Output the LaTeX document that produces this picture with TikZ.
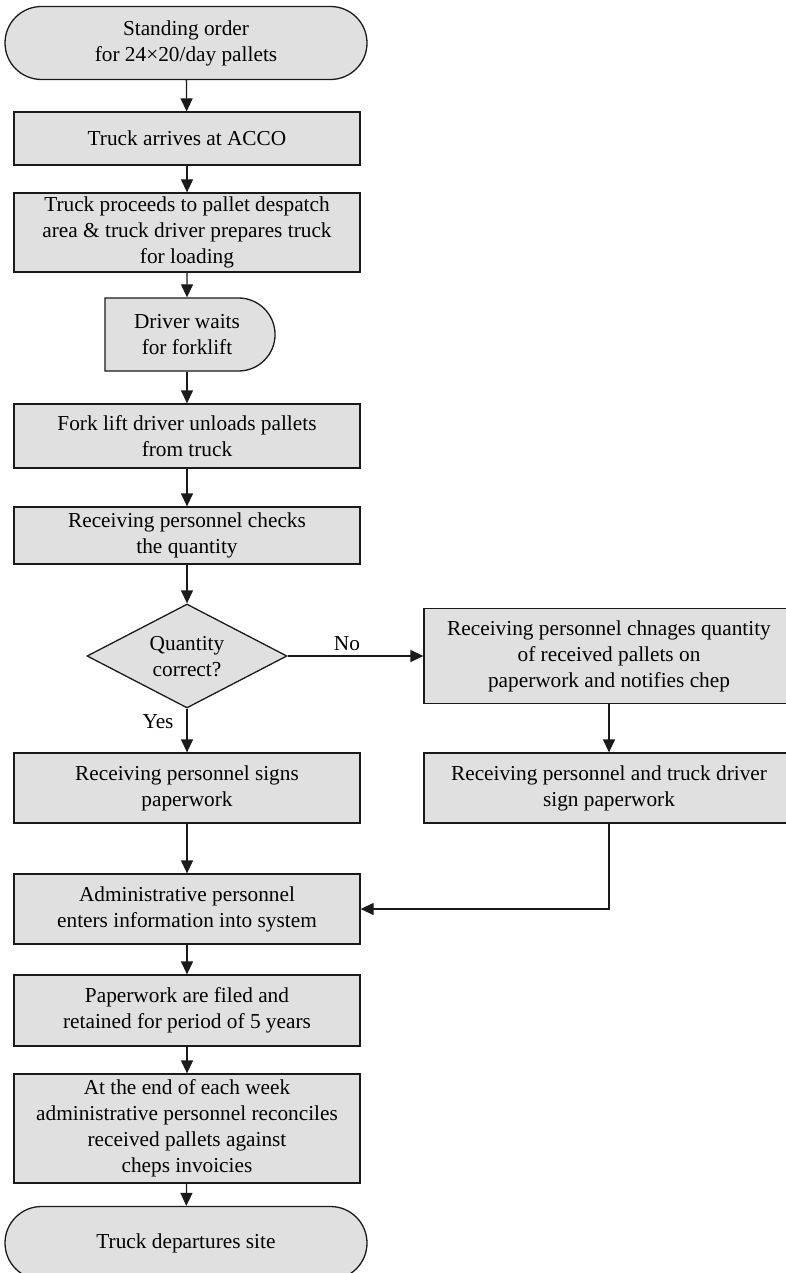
\documentclass[tikz,border=0pt]{standalone}
\usepackage{fontspec}
\setmainfont{Liberation Serif}
\usetikzlibrary{shapes.geometric,shapes.misc,arrows.meta}
\definecolor{boxfill}{HTML}{E0E0E0}
\definecolor{ink}{HTML}{1A1A1A}
\begin{document}
\begin{tikzpicture}[x=1pt,y=-1pt,
  base/.style={draw=ink,fill=boxfill,line width=1.3pt,align=center,inner sep=0pt,
    font=\fontsize{21.3}{26}\selectfont},
  procbox/.style={base,rectangle,minimum width=346,minimum height=#1},
  sidebox/.style={base,rectangle,minimum width=370,minimum height=#1},
  terminal/.style={base,rounded rectangle,minimum width=362,minimum height=73},
  delaybox/.style={base,rounded rectangle,rounded rectangle left arc=none,
    minimum width=170,minimum height=73},
  decision/.style={base,diamond,minimum width=200,minimum height=104},
  lbl/.style={font=\fontsize{21.3}{26}\selectfont,align=center,anchor=base,inner sep=0pt},
  flow/.style={draw=ink,line width=1.3pt,-{Triangle[length=13pt,width=12pt]}}]
\useasboundingbox (0,0) rectangle (786,1273);

% main column
\node[terminal] (start) at (186,43) {Standing order\\for 24\texttimes20/day pallets};
\node[procbox=53] (arrive) at (187,138.5) {Truck arrives at ACCO};
\node[procbox=79] (proceed) at (187,232.5) {Truck proceeds to pallet despatch\\area \& truck driver prepares truck\\for loading};
\node[delaybox] (wait) at (187,334.5) {Driver waits\\for forklift};
\node[procbox=64] (unload) at (187,436) {Fork lift driver unloads pallets\\from truck};
\node[procbox=57] (check) at (187,535.5) {Receiving personnel checks\\the quantity};
\node[decision] (ok) at (187,656) {};
\node[lbl,anchor=center] (oktext) at (187,657) {Quantity\\correct?};
\node[procbox=70] (signs) at (187,788) {Receiving personnel signs\\paperwork};
\node[procbox=70] (enter) at (187,909) {Administrative personnel\\enters information into system};
\node[procbox=71] (file) at (187,1010.5) {Paperwork are filed and\\retained for period of 5 years};
\node[procbox=109] (recon) at (187,1128.5) {At the end of each week\\administrative personnel reconciles\\received pallets against\\cheps invoicies};
\node[terminal] (stop) at (186,1243) {Truck departures site};

% correction branch
\node[sidebox=95] (change) at (609,656) {Receiving personnel chnages quantity\\of received pallets on\\paperwork and notifies chep};
\node[sidebox=70] (both) at (609,788) {Receiving personnel and truck driver\\sign paperwork};

% connectors
\draw[flow] (start) -- (arrive);
\draw[flow] (arrive) -- (proceed);
\draw[flow] (proceed) -- (wait);
\draw[flow] (wait.south -| unload.north) -- (unload);
\draw[flow] (unload) -- (check);
\draw[flow] (check) -- (ok);
\draw[flow] (ok.east) -- (ok.east -| change.west);
\node[lbl] (no) at (347,650) {No};
\draw[flow] (ok.south) -- (signs.north);
\node[lbl] (yes) at (158,728) {Yes};
\draw[flow] (change) -- (both);
\draw[flow] (both.south) |- (enter.east);
\draw[flow] (signs) -- (enter);
\draw[flow] (enter) -- (file);
\draw[flow] (file) -- (recon);
\draw[flow] (recon) -- (stop);
\end{tikzpicture}
\end{document}
